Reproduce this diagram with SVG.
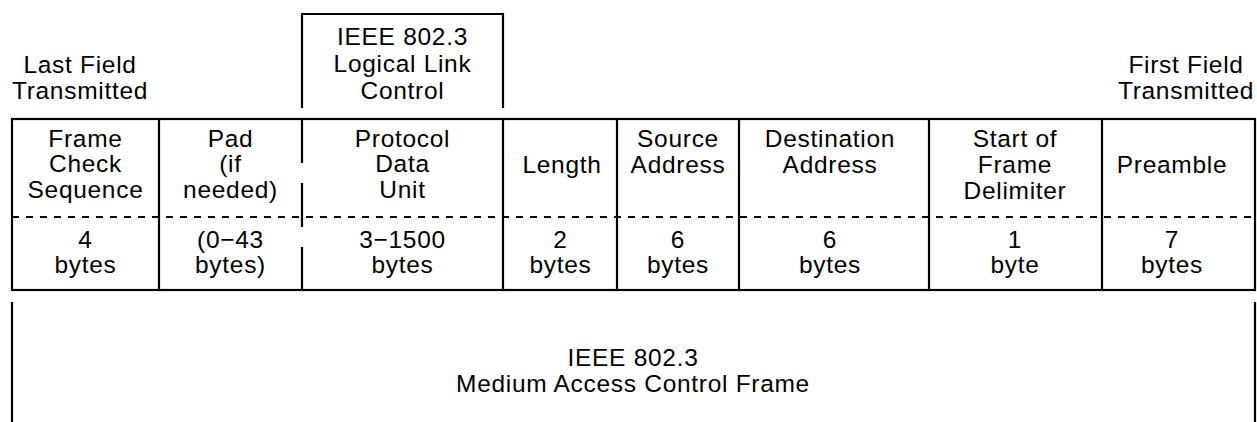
<svg xmlns="http://www.w3.org/2000/svg" width="1257" height="422" viewBox="0 0 1257 422">
  <style>
    text { font-family: "Liberation Sans", Arial, sans-serif; font-size: 24.5px; letter-spacing: 0.7px; fill: #000; text-anchor: middle; }
    .ln { stroke: #000; stroke-width: 2.2; fill: none; }
    .dash { stroke: #000; stroke-width: 2; stroke-dasharray: 7 7; fill: none; }
  </style>
  <rect width="1257" height="422" fill="#fff"/>

  <!-- side notes -->
  <g id="last-field">
    <text x="80" y="73">Last Field</text>
    <text x="80" y="99">Transmitted</text>
  </g>
  <g id="first-field">
    <text x="1186" y="73">First Field</text>
    <text x="1186" y="99">Transmitted</text>
  </g>

  <!-- LLC bracket over the data unit -->
  <g id="llc">
    <path class="ln" d="M302,108 V14 H503 V108"/>
    <text x="402.5" y="45">IEEE 802.3</text>
    <text x="402.5" y="72">Logical Link</text>
    <text x="402.5" y="99">Control</text>
  </g>

  <!-- frame outline, field dividers and size separator -->
  <g id="frame-grid">
    <rect class="ln" x="12" y="119" width="1243" height="171"/>
    <path class="ln" d="M159,119 V290 M503,119 V290 M617,119 V290 M739,119 V290 M929,119 V290 M1102,119 V290"/>
    <!-- variable boundary between pad and data unit -->
    <path class="ln" d="M302,119 V163 M302,183 V227 M302,247 V290"/>
    <line class="dash" x1="12" y1="217" x2="1255" y2="217"/>
  </g>

  <g id="fcs">
    <text x="85.5" y="147">Frame</text>
    <text x="85.5" y="172">Check</text>
    <text x="85.5" y="198">Sequence</text>
    <text x="85.5" y="248">4</text>
    <text x="85.5" y="273">bytes</text>
  </g>
  <g id="pad">
    <text x="230.5" y="147">Pad</text>
    <text x="230.5" y="172">(if</text>
    <text x="230.5" y="198">needed)</text>
    <text x="230.5" y="248">(0−43</text>
    <text x="230.5" y="273">bytes)</text>
  </g>
  <g id="pdu">
    <text x="402.5" y="147">Protocol</text>
    <text x="402.5" y="172">Data</text>
    <text x="402.5" y="198">Unit</text>
    <text x="402.5" y="248">3−1500</text>
    <text x="402.5" y="273">bytes</text>
  </g>
  <g id="length">
    <text x="562" y="173">Length</text>
    <text x="560.5" y="248">2</text>
    <text x="560.5" y="273">bytes</text>
  </g>
  <g id="source">
    <text x="678" y="147">Source</text>
    <text x="678" y="173">Address</text>
    <text x="678" y="248">6</text>
    <text x="678" y="273">bytes</text>
  </g>
  <g id="destination">
    <text x="830" y="147">Destination</text>
    <text x="830" y="173">Address</text>
    <text x="830" y="248">6</text>
    <text x="830" y="273">bytes</text>
  </g>
  <g id="sfd">
    <text x="1015" y="147">Start of</text>
    <text x="1015" y="173">Frame</text>
    <text x="1015" y="199">Delimiter</text>
    <text x="1015" y="248">1</text>
    <text x="1015" y="273">byte</text>
  </g>
  <g id="preamble">
    <text x="1172" y="173">Preamble</text>
    <text x="1172" y="248">7</text>
    <text x="1172" y="273">bytes</text>
  </g>

  <!-- MAC frame span below -->
  <g id="mac-frame">
    <path class="ln" d="M12,302 V422 M1255,302 V422"/>
    <text x="633" y="366">IEEE 802.3</text>
    <text x="633" y="392">Medium Access Control Frame</text>
  </g>
</svg>
